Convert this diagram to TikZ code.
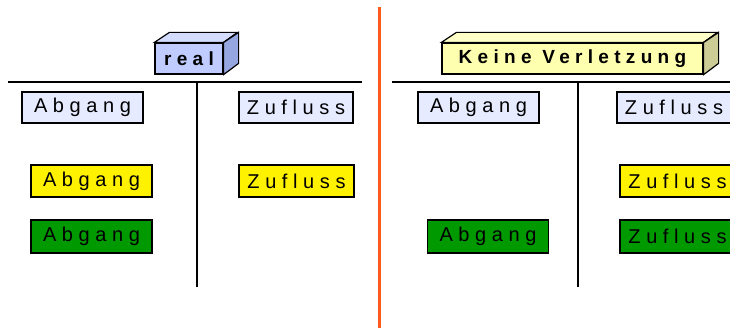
\documentclass[tikz,border=0pt]{standalone}
\usepackage{fontspec}
\setmainfont{Liberation Sans}
\newfontfamily\spacedfont[LetterSpace=28]{Liberation Sans}
\newfontfamily\spacedbold[LetterSpace=28]{Liberation Sans Bold}
\usetikzlibrary{positioning}
\definecolor{paleblue}{RGB}{230,235,255}
\definecolor{boxgreen}{RGB}{0,153,0}
\definecolor{cubeblue}{RGB}{192,204,255}
\definecolor{cubebluetop}{RGB}{212,220,255}
\definecolor{cubeblueside}{RGB}{150,166,224}
\definecolor{cubeyellow}{RGB}{255,255,176}
\definecolor{cubeyellowtop}{RGB}{255,255,200}
\definecolor{cubeyellowside}{RGB}{204,204,150}
\definecolor{splitorange}{RGB}{255,90,30}

\begin{document}
\begin{tikzpicture}[x=1pt, y=-1pt,
                    plainnode/.style={rectangle, draw=black, line width=1.2pt, fill=paleblue, inner sep=0pt,
                                      minimum width=121pt, minimum height=31pt, font=\fontsize{20}{22}\spacedfont},
                    yellownode/.style={plainnode, fill=yellow, minimum height=32pt},
                    greennode/.style={plainnode, fill=boxgreen, minimum height=33pt},
                    cubenode/.style={rectangle, draw=black, line width=1.2pt, inner sep=0pt,
                                     minimum height=31pt, font=\fontsize{19}{21}\spacedbold}]
    \useasboundingbox (0,0) rectangle (730,328);
    % cubes
    \node[cubenode, fill=cubeblue, minimum width=68pt]     (real)  at (189,58.5)   {real};
    \node[cubenode, fill=cubeyellow, minimum width=261pt]  (keine) at (572.5,58.5) {Keine Verletzung};
    \filldraw[line width=1.2pt, fill=cubebluetop] (real.north west) -- ++(15,-10) -- ++(68,0) -- (real.north east) -- cycle;
    \filldraw[line width=1.2pt, fill=cubeblueside] (real.north east) -- ++(15,-10) -- ++(0,31) -- (real.south east) -- cycle;
    \filldraw[line width=1.2pt, fill=cubeyellowtop] (keine.north west) -- ++(15,-10) -- ++(261,0) -- (keine.north east) -- cycle;
    \filldraw[line width=1.2pt, fill=cubeyellowside] (keine.north east) -- ++(15,-10) -- ++(0,31) -- (keine.south east) -- cycle;
    % lines
    \draw[line width=1.6pt] (8,82) -- (362,82);
    \draw[line width=1.6pt] (197,82) -- (197,287);
    \draw[line width=1.6pt] (392,82) -- (730,82);
    \draw[line width=1.6pt] (578,82) -- (578,287);
    \draw[line width=3pt, splitorange] (379,7) -- (379,328);
    % left nodes
    \node[plainnode]                        (abgangL)   at (82.5,107.5) {Abgang};
    \node[plainnode, minimum width=114pt]   (zuflussL)  at (296,107.5)  {Zufluss};
    \node[yellownode]                       (abgangLy)  at (91.5,181)   {Abgang};
    \node[yellownode, minimum width=115pt]  (zuflussLy) at (296.5,181)  {Zufluss};
    \node[greennode]                        (abgangLg)  at (91.5,236.5) {Abgang};
    % right nodes
    \node[plainnode]                        (abgangR)   at (478.5,107.5) {Abgang};
    \node[plainnode, minimum width=114pt]   (zuflussR)  at (674,107.5)   {Zufluss};
    \node[yellownode, minimum width=115pt]  (zuflussRy) at (677.5,181)   {Zufluss};
    \node[greennode]                        (abgangRg)  at (488,236.5)   {Abgang};
    \node[greennode, minimum width=115pt]   (zuflussRg) at (677.5,236.5) {Zufluss};
\end{tikzpicture}
\end{document}
